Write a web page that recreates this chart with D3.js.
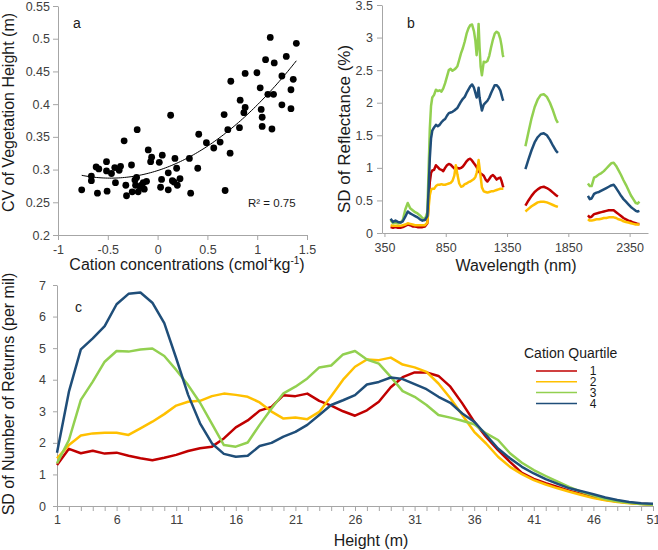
<!DOCTYPE html>
<html><head><meta charset="utf-8">
<script src="https://cdn.jsdelivr.net/npm/d3@7/dist/d3.min.js"></script>
<style>
body{margin:0;background:#fff}
svg{display:block}
text{font-family:"Liberation Sans",Arial,Helvetica,sans-serif}
</style>
</head><body>
<svg id="chart" width="658" height="550"></svg>
<script>
// ---------- Panel a: scatter ----------
const cationX = [-0.762,-0.665,-0.665,-0.617,-0.59,-0.604,-0.513,-0.513,-0.507,-0.463,-0.43,-0.423,-0.386,-0.372,-0.336,-0.319,-0.312,-0.262,-0.255,-0.205,-0.228,-0.211,-0.221,-0.195,-0.178,-0.161,-0.144,-0.111,-0.134,-0.094,-0.06,-0.07,0.017,0.047,0.040,0.030,0.107,0.107,0.131,0.148,0.164,0.174,0.191,0.198,0.225,0.319,0.332,0.413,0.403,0.490,0.564,0.628,0.668,0.678,0.705,0.728,0.735,0.822,0.829,0.879,0.879,0.866,0.997,1.030,1.040,1.050,1.050,1.084,1.107,1.131,1.148,1.171,1.164,1.248,1.248,1.292,1.339,1.339,1.362,1.393];
const cvHeight = [0.269,0.290,0.283,0.304,0.301,0.264,0.312,0.298,0.267,0.294,0.303,0.280,0.299,0.305,0.344,0.276,0.260,0.307,0.266,0.361,0.284,0.288,0.276,0.266,0.274,0.276,0.280,0.282,0.270,0.330,0.319,0.312,0.311,0.322,0.285,0.273,0.295,0.269,0.383,0.283,0.281,0.317,0.302,0.276,0.286,0.317,0.264,0.354,0.302,0.341,0.333,0.342,0.384,0.268,0.361,0.325,0.435,0.364,0.406,0.447,0.395,0.387,0.448,0.425,0.392,0.380,0.366,0.468,0.415,0.502,0.362,0.463,0.415,0.443,0.399,0.473,0.422,0.393,0.438,0.493];
const aXTicks = [-1,-0.5,0,0.5,1,1.5];
const aYTicks = [0.2,0.25,0.3,0.35,0.4,0.45,0.5,0.55];
const r2Label = "R² = 0.75";

// ---------- Panel b: reflectance SD spectra ----------
const wl1 = [400,420,440,460,480,500,520,540,560,580,600,620,640,660,680,700,710,720,730,740,755,770,785,800,815,830,845,860,875,890,905,920,932,945,960,975,990,1005,1020,1035,1050,1065,1080,1092,1102,1110,1118,1126,1135,1145,1160,1175,1190,1205,1220,1235,1250,1265,1280,1295,1305,1315,1320];
const refl1Q1 = [0.09,0.08,0.09,0.08,0.08,0.09,0.11,0.13,0.12,0.10,0.10,0.09,0.09,0.09,0.10,0.15,0.45,0.78,0.92,0.96,0.97,1.04,1.01,0.98,0.97,0.95,1.00,1.04,1.06,1.05,1.02,0.99,0.98,1.00,0.99,1.00,1.02,1.06,1.10,1.13,1.14,1.11,1.07,1.04,1.01,0.98,0.96,0.93,0.91,0.90,0.88,0.82,0.79,0.83,0.87,0.89,0.86,0.82,0.84,0.85,0.80,0.73,0.70];
const refl1Q2 = [0.12,0.11,0.11,0.11,0.11,0.12,0.13,0.15,0.14,0.13,0.12,0.12,0.12,0.12,0.12,0.16,0.38,0.58,0.66,0.68,0.68,0.72,0.74,0.74,0.75,0.74,0.74,0.75,0.76,0.77,0.80,0.88,1.04,0.90,0.76,0.71,0.72,0.75,0.76,0.78,0.79,0.81,0.83,0.86,0.92,1.00,1.12,1.00,0.86,0.70,0.64,0.63,0.62,0.63,0.64,0.64,0.65,0.66,0.67,0.68,0.68,0.68,0.68];
const refl1Q3 = [0.20,0.15,0.16,0.15,0.16,0.20,0.36,0.46,0.38,0.35,0.32,0.30,0.27,0.23,0.21,0.32,0.95,1.60,1.95,2.08,2.12,2.20,2.18,2.19,2.17,2.22,2.30,2.40,2.50,2.52,2.49,2.51,2.53,2.56,2.66,2.76,2.84,2.94,3.06,3.14,3.19,3.20,3.10,2.95,2.73,2.90,3.21,2.85,2.55,2.42,2.63,2.62,2.64,2.72,2.85,2.97,3.06,3.09,3.07,2.98,2.88,2.74,2.70];
const refl1Q4 = [0.22,0.17,0.19,0.17,0.16,0.18,0.25,0.33,0.30,0.28,0.26,0.24,0.21,0.19,0.20,0.26,0.65,1.15,1.45,1.57,1.62,1.66,1.64,1.66,1.70,1.73,1.75,1.80,1.84,1.85,1.86,1.88,1.90,1.92,1.97,2.02,2.06,2.09,2.15,2.20,2.25,2.28,2.23,2.15,2.08,2.12,2.23,2.08,1.98,1.88,1.97,2.00,2.03,2.08,2.15,2.21,2.27,2.27,2.24,2.19,2.12,2.05,2.03];
const wl2 = [1500,1525,1550,1575,1600,1625,1650,1675,1700,1725,1750,1765];
const refl2Q1 = [0.42,0.50,0.57,0.63,0.67,0.70,0.71,0.69,0.66,0.62,0.58,0.56];
const refl2Q2 = [0.33,0.37,0.41,0.44,0.47,0.48,0.48,0.47,0.45,0.43,0.41,0.40];
const refl2Q3 = [1.33,1.55,1.76,1.93,2.05,2.12,2.13,2.09,2.00,1.88,1.74,1.69];
const refl2Q4 = [0.98,1.13,1.27,1.39,1.47,1.52,1.53,1.50,1.43,1.34,1.26,1.23];
const wl3 = [2010,2025,2040,2060,2080,2100,2120,2140,2160,2180,2200,2220,2240,2260,2280,2300,2320,2340,2360,2380,2400,2415,2430];
const refl3Q1 = [0.27,0.24,0.25,0.29,0.30,0.31,0.32,0.33,0.34,0.35,0.35,0.35,0.32,0.29,0.26,0.23,0.21,0.19,0.18,0.16,0.15,0.14,0.14];
const refl3Q2 = [0.21,0.19,0.19,0.20,0.21,0.21,0.22,0.23,0.23,0.24,0.24,0.24,0.23,0.21,0.20,0.18,0.17,0.16,0.15,0.14,0.13,0.13,0.13];
const refl3Q3 = [0.76,0.72,0.72,0.85,0.87,0.90,0.92,0.95,0.99,1.03,1.07,1.08,1.03,0.96,0.89,0.81,0.74,0.66,0.58,0.52,0.46,0.45,0.48];
const refl3Q4 = [0.57,0.52,0.53,0.60,0.62,0.63,0.65,0.67,0.69,0.71,0.73,0.74,0.69,0.63,0.57,0.52,0.48,0.44,0.40,0.37,0.34,0.33,0.34];
const bXTicks = [350,850,1350,1850,2350];
const bYTicks = [0,0.5,1,1.5,2,2.5,3,3.5];

// ---------- Panel c: returns SD by height ----------
const heights = d3.range(1, 52);
const returnsQ1 = [1.30,1.81,1.67,1.75,1.66,1.69,1.59,1.51,1.45,1.53,1.62,1.74,1.83,1.88,2.14,2.49,2.71,3.02,3.14,3.51,3.48,3.56,3.33,3.18,3.00,2.86,3.03,3.30,3.76,4.08,4.23,4.23,4.12,3.78,3.25,2.67,2.19,1.77,1.40,1.05,0.86,0.72,0.60,0.48,0.38,0.28,0.20,0.14,0.10,0.07,0.05];
const returnsQ2 = [1.51,1.93,2.23,2.30,2.32,2.32,2.25,2.46,2.67,2.91,3.18,3.30,3.33,3.48,3.56,3.52,3.46,3.28,2.99,2.77,2.80,2.75,2.98,3.48,4.00,4.41,4.64,4.62,4.70,4.48,4.39,4.25,3.88,3.41,2.88,2.35,1.98,1.56,1.24,1.01,0.82,0.68,0.56,0.45,0.35,0.25,0.18,0.13,0.09,0.06,0.04];
const returnsQ3 = [1.35,2.09,3.36,3.94,4.57,4.91,4.89,4.96,4.99,4.75,4.31,3.83,3.27,2.60,1.93,1.88,2.01,2.57,3.09,3.57,3.78,4.04,4.39,4.45,4.80,4.91,4.64,4.51,4.09,3.64,3.46,3.20,2.88,2.80,2.70,2.59,2.30,2.09,1.67,1.37,1.14,0.95,0.77,0.60,0.45,0.33,0.22,0.15,0.10,0.06,0.04];
const returnsQ4 = [1.69,3.62,4.96,5.31,5.70,6.39,6.72,6.76,6.44,5.79,4.68,3.52,2.62,1.98,1.65,1.56,1.59,1.90,2.00,2.20,2.35,2.57,2.88,3.20,3.35,3.51,3.85,3.93,4.07,4.02,3.86,3.70,3.46,3.27,2.93,2.67,2.25,1.82,1.51,1.24,1.03,0.85,0.70,0.56,0.47,0.37,0.27,0.19,0.13,0.09,0.07];
const cXLabels = [1,6,11,16,21,26,31,36,41,46,51];
const cYTicks = [0,1,2,3,4,5,6,7];
const quartileNames = ["1","2","3","4"];
const quartileColors = ["#C00000","#FFC000","#92D050","#1F4E79"];

// ---------- drawing ----------
const svg = d3.select("#chart");
const AX = "#a6a6a6", TXT = "#404040", TITLE = "#1a1a1a";
const FONT = '"Liberation Sans",Arial,sans-serif';

function styleAxis(g, fs){
  g.select(".domain").attr("stroke", AX).attr("stroke-width", 1);
  g.selectAll(".tick line").attr("stroke", AX);
  g.selectAll(".tick text").attr("fill", TXT).style("font-size", fs + "px").style("font-family", FONT);
}
function fmt(d){ return String(+d.toFixed(2)); }

// Panel a
const xA = d3.scaleLinear([-1, 1.5], [58, 307]);
const yA = d3.scaleLinear([0.2, 0.55], [235, 6]);
svg.append("g").attr("transform", "translate(0,235)")
  .call(d3.axisBottom(xA).tickValues(aXTicks).tickFormat(fmt).tickSize(5).tickSizeOuter(0).tickPadding(5))
  .call(g => styleAxis(g, 12.5));
svg.append("g").attr("transform", "translate(58,0)")
  .call(d3.axisLeft(yA).tickValues(aYTicks).tickFormat(fmt).tickSize(5).tickSizeOuter(0).tickPadding(3))
  .call(g => styleAxis(g, 12.5));

const pts = cationX.map((x, i) => [x, cvHeight[i]]);
svg.append("g").selectAll("circle").data(pts).join("circle")
  .attr("cx", d => xA(d[0])).attr("cy", d => yA(d[1])).attr("r", 3.4).attr("fill", "#000");

// quadratic least-squares trend computed from the points
(function(){
  let S = [0,0,0,0,0], T = [0,0,0];
  pts.forEach(([x, y]) => { for (let k = 0; k < 5; k++) S[k] += Math.pow(x, k); for (let k = 0; k < 3; k++) T[k] += y * Math.pow(x, k); });
  const M = [[S[0],S[1],S[2],T[0]],[S[1],S[2],S[3],T[1]],[S[2],S[3],S[4],T[2]]];
  for (let i = 0; i < 3; i++) { for (let j = i + 1; j < 3; j++) { const f = M[j][i] / M[i][i]; for (let k = i; k < 4; k++) M[j][k] -= f * M[i][k]; } }
  const c = [0,0,0];
  for (let i = 2; i >= 0; i--) { let s = M[i][3]; for (let k = i + 1; k < 3; k++) s -= M[i][k] * c[k]; c[i] = s / M[i][i]; }
  const [x0, x1] = d3.extent(cationX);
  const xs = d3.range(0, 101).map(i => x0 + (x1 - x0) * i / 100);
  svg.append("path").datum(xs).attr("fill", "none").attr("stroke", "#000").attr("stroke-width", 1)
    .attr("d", d3.line().x(x => xA(x)).y(x => yA(c[0] + c[1] * x + c[2] * x * x)));
})();

svg.append("text").attr("x", 248).attr("y", 206.5).attr("fill", TITLE).style("font-size", "11.5px").text(r2Label);
svg.append("text").attr("x", 73).attr("y", 28).attr("fill", TITLE).style("font-size", "14px").text("a");
const xtA = svg.append("text").attr("x", 187).attr("y", 270).attr("text-anchor", "middle").attr("fill", TITLE).style("font-size", "16px");
xtA.append("tspan").text("Cation concentrations (cmol");
xtA.append("tspan").attr("dy", -6).style("font-size", "10px").text("+");
xtA.append("tspan").attr("dy", 6).text("kg");
xtA.append("tspan").attr("dy", -6).style("font-size", "10px").text("-1");
xtA.append("tspan").attr("dy", 6).text(")");
svg.append("text").attr("transform", "translate(14,112.5) rotate(-90)").attr("text-anchor", "middle")
  .attr("fill", TITLE).style("font-size", "16px").text("CV of Vegetation Height (m)");

// Panel b
const xB = d3.scaleLinear([330, 2500], [382, 648]);
const yB = d3.scaleLinear([0, 3.5], [233, 5]);
svg.append("g").attr("transform", "translate(0,233)")
  .call(d3.axisBottom(xB).tickValues(bXTicks).tickFormat(d3.format("d")).tickSize(4).tickSizeOuter(0).tickPadding(6))
  .call(g => styleAxis(g, 12.5));
svg.append("g").attr("transform", "translate(382,0)")
  .call(d3.axisLeft(yB).tickValues(bYTicks).tickFormat(fmt).tickSize(5).tickSizeOuter(0).tickPadding(4))
  .call(g => styleAxis(g, 12.5));

const segs = [
  [wl1, [refl1Q1, refl1Q2, refl1Q3, refl1Q4]],
  [wl2, [refl2Q1, refl2Q2, refl2Q3, refl2Q4]],
  [wl3, [refl3Q1, refl3Q2, refl3Q3, refl3Q4]]
];
const lineB = d3.line().x(d => xB(d[0])).y(d => yB(d[1]));
const gB = svg.append("g");
for (let q = 0; q < 4; q++) {
  segs.forEach(([wl, vals]) => {
    gB.append("path").datum(wl.map((w, i) => [w, vals[q][i]]))
      .attr("fill", "none").attr("stroke", quartileColors[q]).attr("stroke-width", 2.5)
      .attr("stroke-linejoin", "round").attr("d", lineB);
  });
}
svg.append("text").attr("x", 407).attr("y", 28).attr("fill", TITLE).style("font-size", "14px").text("b");
svg.append("text").attr("x", 516).attr("y", 270.5).attr("text-anchor", "middle").attr("fill", TITLE).style("font-size", "16px").text("Wavelength (nm)");
svg.append("text").attr("transform", "translate(350,129) rotate(-90)").attr("text-anchor", "middle")
  .attr("fill", TITLE).style("font-size", "17px").text("SD of Reflectance (%)");

// Panel c
const xC = d3.scaleLinear([1, 51], [57, 653]);
const yC = d3.scaleLinear([0, 7], [506, 285]);
svg.append("g").attr("transform", "translate(0,506)")
  .call(d3.axisBottom(xC).tickValues(heights).tickFormat(d => cXLabels.includes(d) ? String(d) : "").tickSize(5).tickSizeOuter(0).tickPadding(4))
  .call(g => styleAxis(g, 12.5));
svg.append("g").attr("transform", "translate(57,0)")
  .call(d3.axisLeft(yC).tickValues(cYTicks).tickFormat(d3.format("d")).tickSize(4).tickSizeOuter(0).tickPadding(7))
  .call(g => styleAxis(g, 12.5));

const seriesC = [returnsQ1, returnsQ2, returnsQ3, returnsQ4];
const lineC = d3.line().x(d => xC(d[0])).y(d => yC(d[1]));
seriesC.forEach((vals, q) => {
  svg.append("path").datum(heights.map((h, i) => [h, vals[i]]))
    .attr("fill", "none").attr("stroke", quartileColors[q]).attr("stroke-width", 2.5)
    .attr("stroke-linejoin", "round").attr("d", lineC);
});
svg.append("text").attr("x", 75).attr("y", 312).attr("fill", TITLE).style("font-size", "14px").text("c");
svg.append("text").attr("x", 371).attr("y", 546).attr("text-anchor", "middle").attr("fill", TITLE).style("font-size", "16px").text("Height (m)");
svg.append("text").attr("transform", "translate(14,394) rotate(-90)").attr("text-anchor", "middle")
  .attr("fill", TITLE).style("font-size", "16px").text("SD of Number of Returns (per mil)");

// Legend
const lg = svg.append("g");
lg.append("text").attr("x", 524).attr("y", 357.5).attr("fill", TITLE).style("font-size", "14px").text("Cation Quartile");
quartileNames.forEach((n, i) => {
  const y = 371 + i * 10.8;
  lg.append("line").attr("x1", 536).attr("x2", 577).attr("y1", y).attr("y2", y)
    .attr("stroke", quartileColors[i]).attr("stroke-width", 1.5);
  lg.append("text").attr("x", 593).attr("y", y + 4.2).attr("text-anchor", "middle").attr("fill", TITLE)
    .style("font-size", "12px").text(n);
});
</script>
</body></html>
